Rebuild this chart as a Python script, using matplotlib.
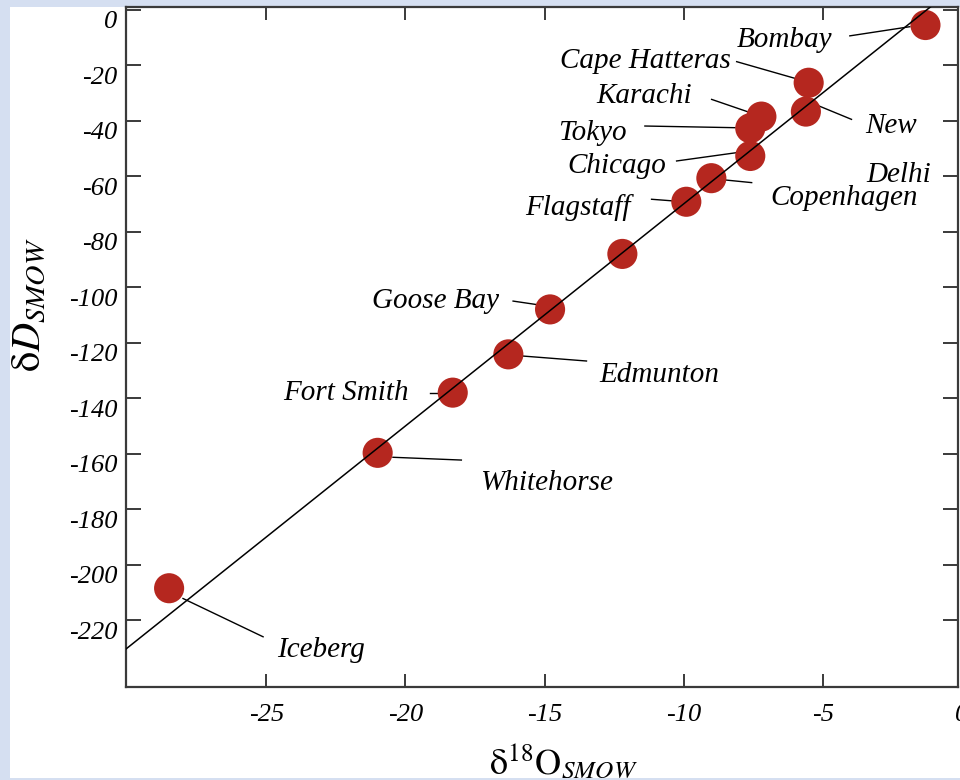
import matplotlib
matplotlib.use("Agg")
import matplotlib.pyplot as plt
from matplotlib.patches import Rectangle
from matplotlib.transforms import ScaledTranslation
import numpy as np

# ---- data ----
cities = ["Bombay", "Cape Hatteras", "New Delhi", "Karachi", "Tokyo", "Chicago",
          "Copenhagen", "Flagstaff", "", "Goose Bay", "Edmunton", "Fort Smith",
          "Whitehorse", "Iceberg"]
d18O = [-1.3, -5.5, -5.6, -7.2, -7.6, -7.6, -9.0, -9.9, -12.2, -14.8, -16.3, -18.3, -21.0, -28.5]
dD = [-5.5, -26.3, -36.7, -38.5, -42.7, -52.7, -60.7, -69.2, -88.0, -108.0, -124.2, -138.0, -159.7, -208.5]
line_slope = 8.0
line_intercept = 10.0
xticks = [-25, -20, -15, -10, -5, 0]
yticks = [0, -20, -40, -60, -80, -100, -120, -140, -160, -180, -200, -220]

# ---- label layout (left, baseline) and leader lines ----
label_pos = {
    "Bombay": (-8.08, -13.4), "Cape Hatteras": (-14.45, -21.1), "New Delhi": (-3.48, -44.4),
    "Karachi": (-13.12, -33.7), "Tokyo": (-14.52, -46.9), "Chicago": (-14.16, -58.8),
    "Copenhagen": (-6.89, -70.4), "Flagstaff": (-15.71, -74.0), "Goose Bay": (-21.21, -107.5),
    "Edmunton": (-13.01, -134.1), "Fort Smith": (-24.41, -140.7), "Whitehorse": (-17.33, -173.1),
    "Iceberg": (-24.63, -233.2),
}
leader = {
    "Bombay": ((-4.02, -9.4), (-1.86, -6.1)),
    "Cape Hatteras": ((-8.09, -18.7), (-6.0, -24.7)),
    "New Delhi": ((-5.22, -34.3), (-3.96, -39.5)),
    "Karachi": ((-8.99, -32.3), (-7.71, -36.7)),
    "Tokyo": ((-11.39, -41.9), (-8.15, -42.5)),
    "Chicago": ((-10.25, -54.5), (-8.09, -51.5)),
    "Copenhagen": ((-8.45, -61.4), (-7.55, -62.3)),
    "Flagstaff": ((-11.15, -68.3), (-10.37, -68.9)),
    "Goose Bay": ((-16.13, -105.0), (-15.32, -106.2)),
    "Edmunton": ((-15.79, -124.8), (-13.49, -126.6)),
    "Fort Smith": ((-19.10, -138.2), (-18.59, -138.2)),
    "Whitehorse": ((-20.45, -161.3), (-17.99, -162.3)),
    "Iceberg": ((-28.0, -212.2), (-25.12, -226.0)),
}

plt.rcParams['mathtext.fontset'] = 'stix'
serif = ['Liberation Serif', 'DejaVu Serif']

W, H = 960, 780
fig = plt.figure(figsize=(9.6, 7.8), dpi=100, facecolor='#d5dff1')
fig.patches.append(Rectangle((10 / W, 2 / H), 1 - 10 / W, (H - 9) / H,
                             transform=fig.transFigure, facecolor='white',
                             edgecolor='none', zorder=-10))

ax = fig.add_axes([126 / W, (H - 687) / H, (958 - 126) / W, (687 - 7) / H])
ax.set_facecolor('white')
ax.set_xlim(-30.05, -0.13)
ax.set_ylim(-244.1, 1.0)

spine_c = '#3a3a3a'
for s in ax.spines.values():
    s.set_color(spine_c)
    s.set_linewidth(1.6)

# GMWL line
xl = np.array([-31.0, 1.0])
ax.plot(xl, line_slope * xl + line_intercept, color='black', lw=1.1, zorder=4)

# points
ax.scatter(d18O, dD, s=470, color='#b5271f', edgecolors='none', zorder=3)

# labels + leaders
for name in cities:
    if not name:
        continue
    (x0, y0), (x1, y1) = leader[name]
    ax.plot([x0, x1], [y0, y1], color='black', lw=1.0, zorder=2)
    lx, ly = label_pos[name]
    lines = name.split(" ") if name == "New Delhi" else [name]
    for i, t in enumerate(lines):
        ax.text(lx + 0.07 * i, ly - 17.7 * i, t, family=serif, style='italic',
                fontsize=21, ha='left', va='baseline', zorder=5)

# ticks
ax.set_xticks([t for t in xticks if t != 0])
ax.set_xticklabels([f"-{abs(t)}" for t in xticks if t != 0])
ax.set_yticks(yticks)
ax.set_yticklabels(["0" if t == 0 else f"-{abs(t)}" for t in yticks])
ax.tick_params(axis='both', direction='in', top=True, right=True,
               color=spine_c, width=1.4, labelsize=19)
ax.tick_params(axis='y', length=11, pad=6)
ax.tick_params(axis='x', length=9.5, pad=12)
for lbl in ax.get_xticklabels() + ax.get_yticklabels():
    lbl.set_family(serif)
    lbl.set_style('italic')
off = ScaledTranslation(0, -10 / 100, fig.dpi_scale_trans)
for lbl in ax.get_yticklabels():
    lbl.set_transform(lbl.get_transform() + off)
# x tick label at 0 sits just past the right spine
ax.text(0, 0, "0", transform=ax.get_xaxis_transform() +
        ScaledTranslation(0, -12 / 72, fig.dpi_scale_trans),
        family=serif, style='italic', fontsize=19, ha='center', va='top', clip_on=False)

# axis titles
fig.text(563 / W, 1 - 774 / H, r'$\mathrm{\delta}^{18}\mathrm{O}_{SMOW}$',
         fontsize=26, ha='center', va='baseline')
fig.text(29 / W, 1 - 305 / H, r'$\mathrm{\delta}D_{SMOW}$',
         fontsize=29, ha='center', va='center', rotation=90)

fig.savefig('out.png', dpi=100, facecolor=fig.get_facecolor())
